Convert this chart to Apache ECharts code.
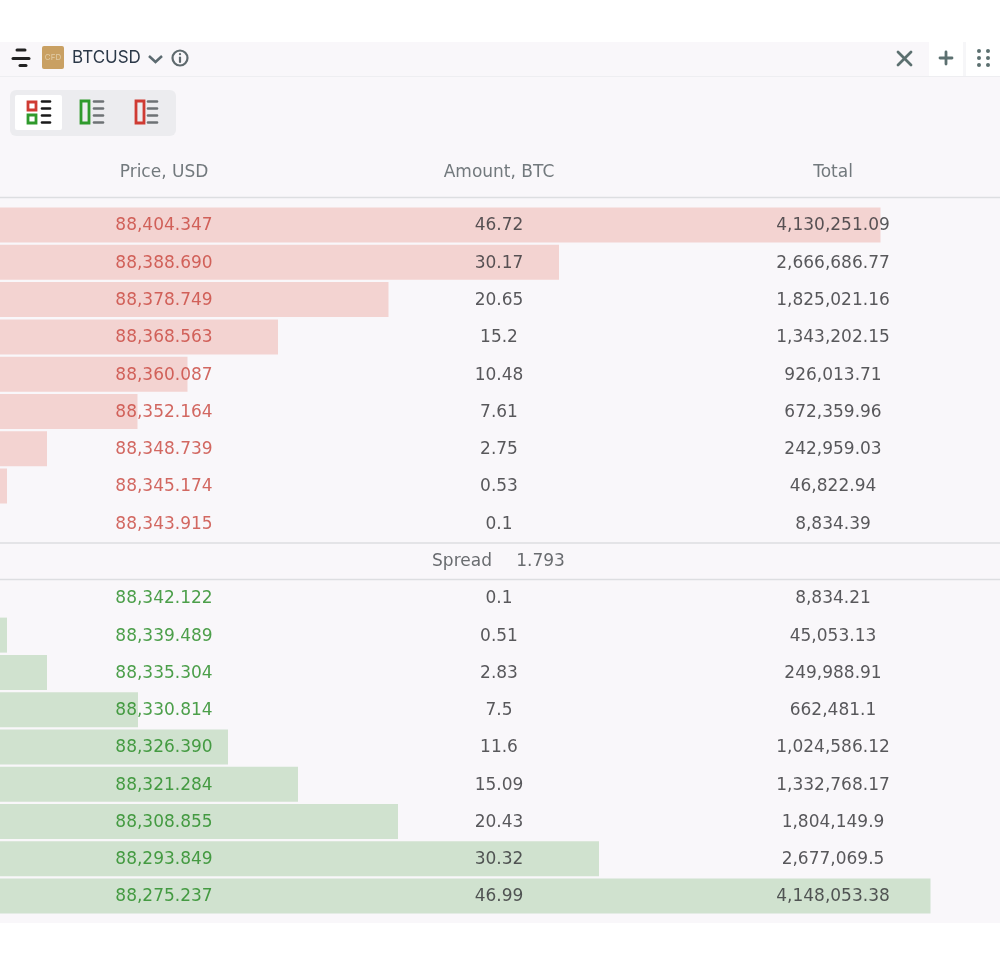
<!DOCTYPE html>
<html><head><meta charset="utf-8">
<style>html,body{margin:0;padding:0;background:#fff}#c{width:1000px;height:966px}</style>
<script src="https://cdn.jsdelivr.net/npm/echarts@6/dist/echarts.min.js"></script>
</head><body><div id="c"></div>
<script>
const askPrices=['88,404.347','88,388.690','88,378.749','88,368.563','88,360.087','88,352.164','88,348.739','88,345.174','88,343.915'];
const askAmounts=['46.72','30.17','20.65','15.2','10.48','7.61','2.75','0.53','0.1'];
const askTotals=['4,130,251.09','2,666,686.77','1,825,021.16','1,343,202.15','926,013.71','672,359.96','242,959.03','46,822.94','8,834.39'];
const askDepth=[88.05,55.9,38.85,27.8,18.75,13.75,4.7,0.7,0];
const spreadLabel='Spread';
const spreadValue='1.793';
const bidPrices=['88,342.122','88,339.489','88,335.304','88,330.814','88,326.390','88,321.284','88,308.855','88,293.849','88,275.237'];
const bidAmounts=['0.1','0.51','2.83','7.5','11.6','15.09','20.43','30.32','46.99'];
const bidTotals=['8,834.21','45,053.13','249,988.91','662,481.1','1,024,586.12','1,332,768.17','1,804,149.9','2,677,069.5','4,148,053.38'];
const bidDepth=[0,0.7,4.7,13.8,22.8,29.8,39.8,59.9,93.05];
const columnTitles=['Price, USD','Amount, BTC','Total'];

const FONT='"DejaVu Sans"';
const rows=[...askPrices.map((_,i)=>'a'+i),'spread',...bidPrices.map((_,i)=>'b'+i)];
const nil=n=>Array(n).fill(null);
const COL=[16.4,49.9,83.3];
function textSeries(name,col,start,values,color){
  return {name,type:'scatter',symbolSize:0,z:5,silent:true,
    data:values.map((v,i)=>({value:[col,start+i],txt:v})),
    label:{show:true,position:'inside',offset:[0,1],formatter:p=>p.data.txt,color,fontFamily:FONT,fontSize:17}};
}
function ln(x1,y1,x2,y2,stroke,w){return {type:'line',shape:{x1,y1,x2,y2},style:{stroke,lineWidth:w,lineCap:'round'},z:2};}
function rc(x,y,width,height,fill,r,stroke,lw){return {type:'rect',shape:{x,y,width,height,r:r||0},style:{fill:fill||'transparent',stroke:stroke||null,lineWidth:lw||0},z:1};}
function tx(x,y,text,fill,size,align,font){return {type:'text',x,y,style:{text,fill,fontFamily:font||FONT,fontSize:size,textAlign:align||'center',textVerticalAlign:'middle'},z:3};}
const gfx=[
  rc(0,42,1000,881,'#f9f7fa'),
  rc(929,42,71,34,'#ffffff'),
  rc(963,42,3,34,'#f6f6f8'),
  ln(0,76.5,1000,76.5,'#eeeef1',1),
  ln(17,50,25,50,'#222',3),ln(13,58.5,29,58.5,'#222',3),ln(20,65.5,26,65.5,'#222',3),
  rc(42,46,22,23,'#c9a063',2),
  tx(53,58,'CFD','#e2cda8',8,'center','Inter'),
  tx(72,58,'BTCUSD','#2b3848',17,'left','Inter'),
  {type:'polyline',shape:{points:[[149,56],[155.5,62],[162,56]]},style:{stroke:'#5c6a70',lineWidth:2.5,fill:null},z:2},
  {type:'circle',shape:{cx:180,cy:58,r:7.5},style:{fill:null,stroke:'#5f6a6e',lineWidth:2.2},z:2},
  ln(180,57.5,180,62,'#5f6a6e',2.2),ln(180,54,180,54.2,'#5f6a6e',2.2),
  ln(898,52,911,65,'#5c7070',2.8),ln(911,52,898,65,'#5c7070',2.8),
  ln(940,58,952,58,'#5c7070',2.8),ln(946,52,946,64,'#5c7070',2.8),
  ...[979,988].flatMap(x=>[51,58,65].map(y=>({type:'circle',shape:{cx:x,cy:y,r:2},style:{fill:'#5c7070'},z:2}))),
  rc(10,90,166,46,'#ececef',6),
  rc(15,95,47,35,'#ffffff',2),
  rc(28,102,8,8,'#fff',0,'#cf3b33',2.8),
  rc(28,115,8,8,'#fff',0,'#2f9a2c',2.8),
  ...[101.5,108.5,115.5,122.5].map(y=>ln(42,y,50,y,'#1a1a1a',2.6)),
  rc(81,101,8,22,null,0,'#2f9a2c',2.8),
  ...[101.5,108.5,115.5,122.5].map(y=>ln(94,y,103,y,'#6d7275',2.6)),
  rc(136,101,8,22,null,0,'#cf3b33',2.8),
  ...[101.5,108.5,115.5,122.5].map(y=>ln(148,y,157,y,'#6d7275',2.6)),
  tx(164,172.5,columnTitles[0],'#72797d',17),
  tx(499,172.5,columnTitles[1],'#72797d',17),
  tx(833,172.5,columnTitles[2],'#72797d',17),
  ln(0,197.5,1000,197.5,'#dddee1',1.5),
  ln(0,543,1000,543,'#dddee1',1.5),
  ln(0,579.5,1000,579.5,'#dddee1',1.5)
];
const chart=echarts.init(document.getElementById('c'),null,{renderer:'canvas'});
chart.setOption({
  animation:false,
  backgroundColor:'#ffffff',
  graphic:{elements:gfx},
  grid:{left:0,top:206.4,width:1000,height:708.3,containLabel:false},
  xAxis:{type:'value',min:0,max:100,show:false},
  yAxis:{type:'category',data:rows,inverse:true,show:false},
  series:[
    {name:'Ask depth',type:'bar',barWidth:35,barGap:'-100%',itemStyle:{color:'#f3d3d1'},z:3,silent:true,
      data:[...askDepth,...nil(10)]},
    {name:'Bid depth',type:'bar',barWidth:35,barGap:'-100%',itemStyle:{color:'#d0e2cf'},z:3,silent:true,
      data:[...nil(10),...bidDepth]},
    textSeries('Ask price',COL[0],0,askPrices,'#c8433b'),
    textSeries('Ask amount',COL[1],0,askAmounts,'#303033'),
    textSeries('Ask total',COL[2],0,askTotals,'#303033'),
    textSeries('Spread label',46.2,9,[spreadLabel],'#45484c'),
    textSeries('Spread value',54.05,9,[spreadValue],'#45484c'),
    textSeries('Bid price',COL[0],10,bidPrices,'#21881e'),
    textSeries('Bid amount',COL[1],10,bidAmounts,'#303033'),
    textSeries('Bid total',COL[2],10,bidTotals,'#303033')
  ]
});
</script></body></html>
